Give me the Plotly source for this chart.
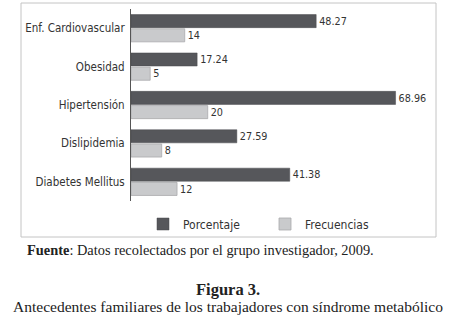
import plotly.graph_objects as go

categories = ["Enf. Cardiovascular", "Obesidad", "Hipertensión", "Dislipidemia", "Diabetes Mellitus"]
porcentaje = [48.27, 17.24, 68.96, 27.59, 41.38]
frecuencias = [14, 5, 20, 8, 12]
porcentaje_labels = ["48.27", "17.24", "68.96", "27.59", "41.38"]
frecuencias_labels = ["14", "5", "20", "8", "12"]

CF = "DejaVu Sans Condensed, Liberation Sans Narrow, sans-serif"
SF = "Liberation Serif, DejaVu Serif, serif"
W, H = 457, 318

def fx(x):
    return x / W

def fy(y):
    return 1 - y / H

def cfont(size):
    return dict(family=CF, size=size, color="#333333")

fig = go.Figure()
fig.add_trace(go.Bar(
    y=categories, x=porcentaje, orientation="h", name="Porcentaje",
    marker=dict(color="#56575b", line=dict(color="#4a4b4f", width=0.5)),
    text=porcentaje_labels, textposition="outside", cliponaxis=False,
    textfont=cfont(11.5),
))
fig.add_trace(go.Bar(
    y=categories, x=frecuencias, orientation="h", name="Frecuencias",
    marker=dict(color="#c9cacc", line=dict(color="#a9aaac", width=0.8)),
    text=frecuencias_labels, textposition="outside", cliponaxis=False,
    textfont=cfont(11.5),
))

fig.update_layout(
    width=W, height=H,
    margin=dict(l=0, r=0, t=0, b=0, pad=0),
    paper_bgcolor="white", plot_bgcolor="white",
    barmode="group", bargap=0.26, bargroupgap=0.08,
    font=cfont(12),
    xaxis=dict(domain=[fx(131), fx(431)], range=[0, 78.2], visible=False, fixedrange=True),
    yaxis=dict(domain=[fy(201), fy(9)], autorange="reversed", automargin=False,
               showline=True, linecolor="#555555", linewidth=1, fixedrange=True,
               ticks="", showgrid=False, tickfont=cfont(11.5), ticklabelstandoff=3),
    legend=dict(orientation="h", x=fx(143), xanchor="left", y=fy(224), yanchor="middle",
                font=cfont(12), entrywidth=77, itemwidth=30, bgcolor="rgba(0,0,0,0)"),
    shapes=[dict(type="rect", xref="paper", yref="paper",
                 x0=fx(21), x1=fx(436), y0=fy(237), y1=fy(3),
                 line=dict(color="#c4c4c4", width=1), layer="above")],
    annotations=[
        dict(text="<b>Fuente</b>: Datos recolectados por el grupo investigador, 2009.",
             xref="paper", yref="paper", x=fx(25), y=fy(250), xanchor="left", yanchor="middle",
             showarrow=False, font=dict(family=SF, size=14.4, color="#222222")),
        dict(text="<b>Figura 3.</b>", xref="paper", yref="paper", x=fx(228), y=fy(289),
             xanchor="center", yanchor="middle", showarrow=False,
             font=dict(family=SF, size=16.5, color="#222222")),
        dict(text="Antecedentes familiares de los trabajadores con síndrome metabólico",
             xref="paper", yref="paper", x=fx(228), y=fy(306), xanchor="center", yanchor="middle",
             showarrow=False, font=dict(family=SF, size=15.5, color="#222222")),
    ],
)

fig.write_html("out.html", config={"displayModeBar": False},
               post_script="document.body.style.margin='0';")
